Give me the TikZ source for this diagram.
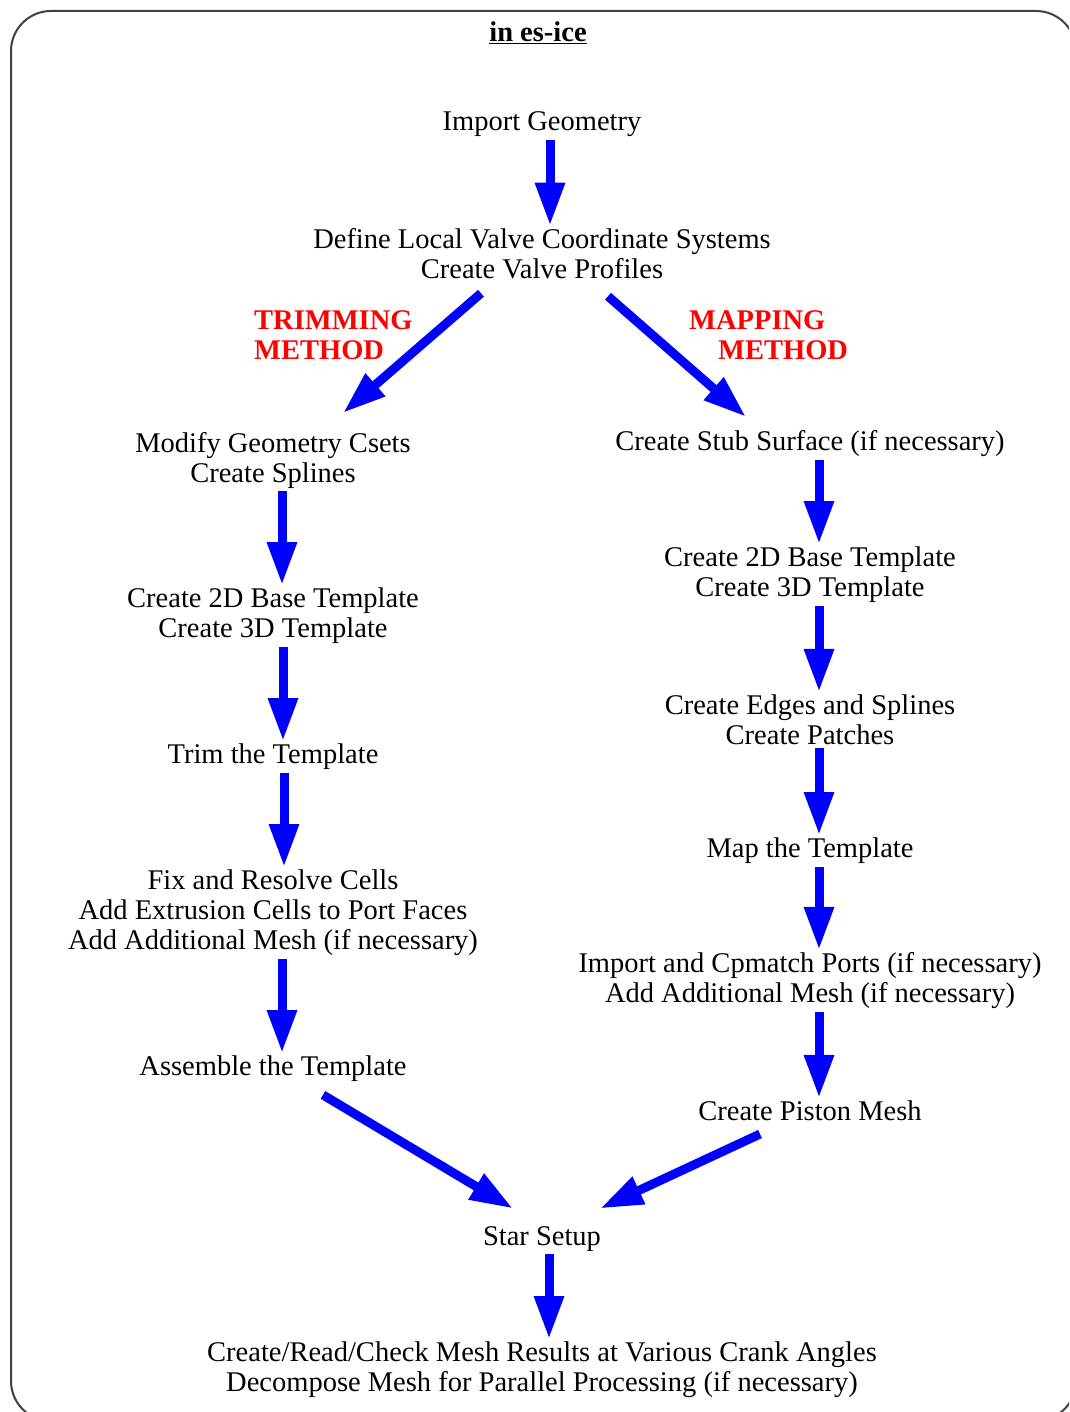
\documentclass[tikz,border=0pt]{standalone}
\usepackage{fontspec}
\setmainfont{Liberation Serif}
\usetikzlibrary{arrows.meta}

\begin{document}
\begin{tikzpicture}[x=1pt,y=-1pt,
  stage/.style={align=center, font=\fontsize{28.5}{30}\selectfont, inner sep=0pt, outer sep=3pt},
  method/.style={align=left, anchor=west, text=red, font=\fontsize{28.5}{30}\selectfont\bfseries, inner sep=0pt},
  flow/.style={blue, line width=9pt, -{Triangle[length=43pt, width=28pt]}}]
  \useasboundingbox (0,0) rectangle (1069,1412);
  \clip (0,0) rectangle (1069,1412);
  \draw[line width=2pt, black!75, rounded corners=40pt] (11,11) rectangle (1076,1421);
  \node[stage, font=\fontsize{28.5}{30}\selectfont\bfseries] (title) at (538,33) {\underline{in es-ice}};
  % common trunk
  \node[stage] (imp) at (542,124) {Import Geometry};
  \node[stage] (def) at (542,254) {Define Local Valve Coordinate Systems\\Create Valve Profiles};
  \node[method] (trimlbl) at (254,335) {TRIMMING\\METHOD};
  \node[method] (maplbl) at (689,335) {MAPPING\\\hspace*{29pt}METHOD};
  % trimming branch
  \node[stage] (mod) at (273,460) {Modify Geometry Csets\\Create Splines};
  \node[stage] (lt2d) at (273,616) {Create 2D Base Template\\Create 3D Template};
  \node[stage] (trim) at (273,757) {Trim the Template};
  \node[stage] (fix) at (273,913) {Fix and Resolve Cells\\Add Extrusion Cells to Port Faces\\Add Additional Mesh (if necessary)};
  \node[stage] (asm) at (273,1069) {Assemble the Template};
  % mapping branch
  \node[stage] (stub) at (810,444) {Create Stub Surface (if necessary)};
  \node[stage] (rt2d) at (810,575) {Create 2D Base Template\\Create 3D Template};
  \node[stage] (edge) at (810,720) {Create Edges and Splines\\Create Patches};
  \node[stage] (map) at (810,851) {Map the Template};
  \node[stage] (port) at (810,981) {Import and Cpmatch Ports (if necessary)\\Add Additional Mesh (if necessary)};
  \node[stage] (pist) at (810,1111) {Create Piston Mesh};
  % end
  \node[stage] (star) at (542,1239) {Star Setup};
  \node[stage] (final) at (542,1370) {Create/Read/Check Mesh Results at Various Crank Angles\\Decompose Mesh for Parallel Processing (if necessary)};

  \draw[flow] ([xshift=8]imp.south) -- ([xshift=8]def.north);
  \draw[flow] ([xshift=-61,yshift=-11]def.south) -- ([xshift=70,yshift=16]mod.north);
  \draw[flow] ([xshift=66,yshift=-14]def.south) -- ([xshift=-64,yshift=11]stub.north);
  \draw[flow] ([xshift=9]mod.south) -- ([xshift=9]lt2d.north);
  \draw[flow] ([xshift=10]lt2d.south) -- ([xshift=10]trim.north);
  \draw[flow] ([xshift=11]trim.south) -- ([xshift=11]fix.north);
  \draw[flow] ([xshift=9]fix.south) -- ([xshift=9]asm.north);
  \draw[flow] ([xshift=9]stub.south) -- ([xshift=9]rt2d.north);
  \draw[flow] ([xshift=9]rt2d.south) -- ([xshift=9]edge.north);
  \draw[flow] ([xshift=9]edge.south) -- ([xshift=9]map.north);
  \draw[flow] ([xshift=9]map.south) -- ([xshift=9]port.north);
  \draw[flow] ([xshift=9]port.south) -- ([xshift=9]pist.north);
  \draw[flow] ([xshift=50,yshift=-10]asm.south) -- ([xshift=-29,yshift=15]star.north);
  \draw[flow] ([xshift=-50,yshift=-10]pist.south) -- ([xshift=58,yshift=15]star.north);
  \draw[flow] ([xshift=7]star.south) -- ([xshift=7]final.north);
\end{tikzpicture}
\end{document}
